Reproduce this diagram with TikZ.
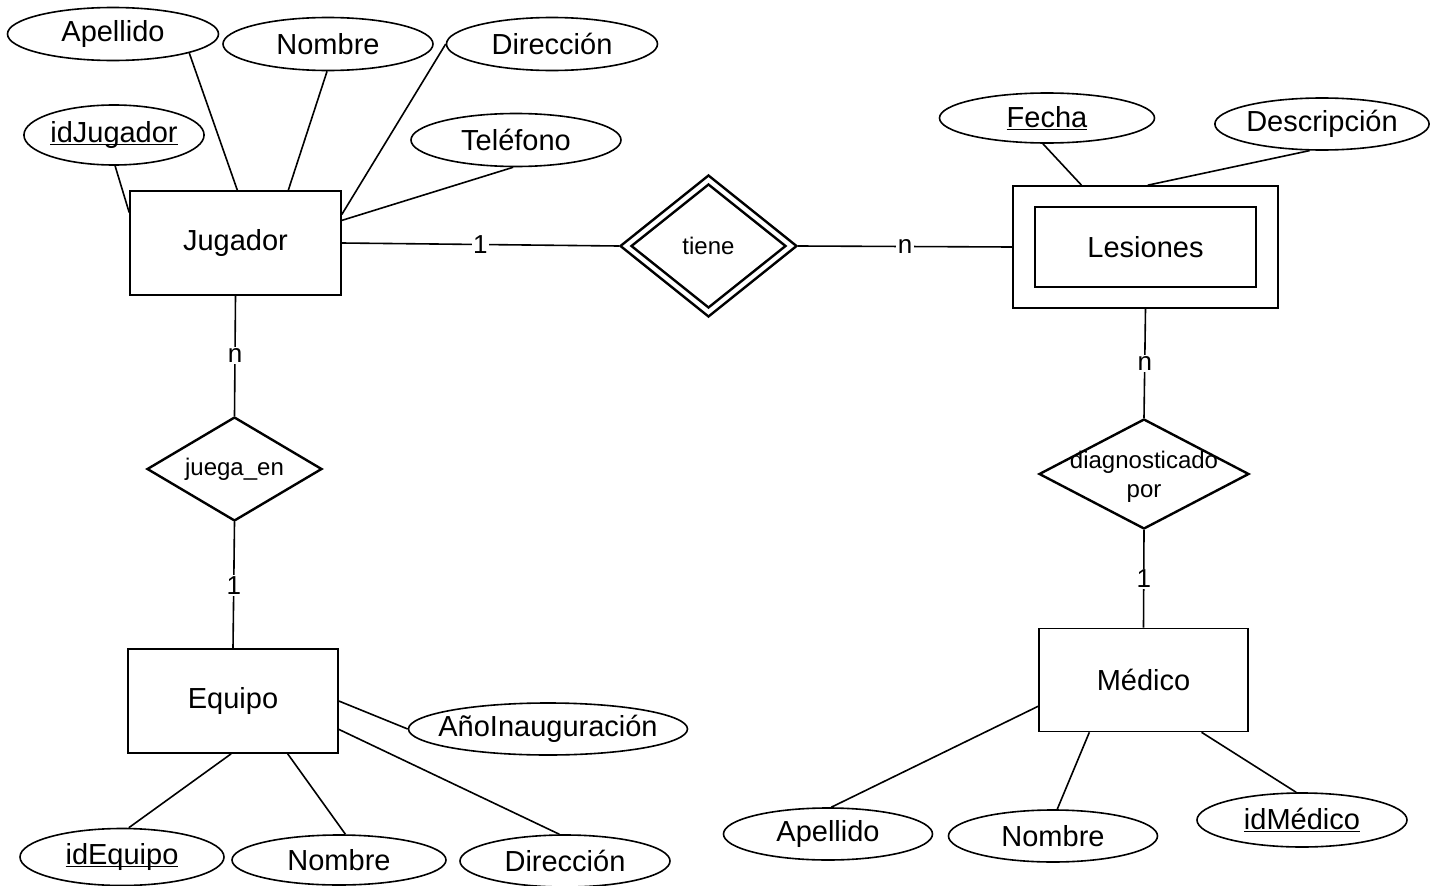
\documentclass[tikz,border=0pt]{standalone}
\usepackage{fontspec}
\setmainfont{Liberation Sans}
\usetikzlibrary{shapes.geometric}
\newcommand{\pkey}[1]{\underline{\smash{#1}}\vphantom{#1}}

\begin{document}
\begin{tikzpicture}[x=1pt,y=-1pt,line width=1.6pt,
		entity/.style={rectangle,draw,inner sep=0pt,font=\fontsize{29}{31}\selectfont},
		attr/.style={ellipse,draw,inner sep=0pt,minimum width=210,minimum height=53,font=\fontsize{29}{31}\selectfont},
		rel/.style={diamond,draw,aspect=2,line width=2.4pt,inner sep=0pt,font=\fontsize{24}{29}\selectfont},
		card/.style={fill=white,inner sep=1.5pt,font=\fontsize{26}{28}\selectfont}]
	\useasboundingbox (0,0) rectangle (1436,886);
	% Entities
	\node[entity,minimum width=211,minimum height=104] (jugador) at (235.5,243) {Jugador};
	\node[entity,minimum width=265,minimum height=122] (lesiones) at (1145.5,247) {};
	\node[entity,minimum width=221,minimum height=80] (lesionesin) at (lesiones) {Lesiones};
	\node[entity,minimum width=210,minimum height=104] (equipo) at (233,701) {Equipo};
	\node[entity,minimum width=209,minimum height=103] (medico) at (1143.5,680) {Médico};

	% Relationships
	\node[rel,minimum width=177,minimum height=142] (tiene) at (708.5,246) {};
	\node[rel,minimum width=155,minimum height=124] (tienein) at (tiene) {tiene};
	\node[rel,minimum width=175,minimum height=104] (juega) at (234.5,469) {juega\_en};
	\node[rel,minimum width=210,minimum height=110] (diag) at (1144,474) {};
	\node[font=\fontsize{24}{29}\selectfont,align=center,inner sep=0pt] (diagtxt) at (1144,477) {diagnosticado\\por};

	% Attributes
	\node[attr,minimum width=211] (apellidoJ) at (113,34) {Apellido};
	\node[attr] (nombreJ) at (328,44) {Nombre};
	\node[attr,minimum width=211] (direccionJ) at (552,44) {Dirección};
	\node[attr,minimum width=176,minimum height=60] (idjugador) at (114,135) {\pkey{idJugador}};
	\node[attr] (telefono) at (516,140) {Teléfono};
	\node[attr,minimum width=215,minimum height=50] (fecha) at (1047,118) {\pkey{Fecha}};
	\node[attr,minimum width=213,minimum height=52] (descripcion) at (1322,124) {Descripción};
	\node[attr,minimum width=279,minimum height=52] (anio) at (548,729) {\makebox[0pt]{AñoInauguración}};
	\node[attr,minimum width=204,minimum height=57] (idequipo) at (122,857) {\pkey{idEquipo}};
	\node[attr,minimum width=214,minimum height=50] (nombreE) at (339,860) {Nombre};
	\node[attr,minimum height=52] (direccionE) at (565,861) {Dirección};
	\node[attr,minimum width=209,minimum height=52] (apellidoM) at (828,834) {Apellido};
	\node[attr,minimum width=209,minimum height=52] (nombreM) at (1053,836) {Nombre};
	\node[attr,minimum width=210,minimum height=54] (idmedico) at (1302,820) {\pkey{idMédico}};

	% Edges
	\draw (jugador.east) -- node[card] (c1) {1} (tiene.west);
	\draw (tiene.east) -- node[card] (c2) {n} (lesiones.west);
	\draw (jugador.south) -- node[card] (c3) {n} (juega.north);
	\draw (juega.south) -- node[card] (c4) {1} (equipo.north);
	\draw (lesiones.south) -- node[card] (c5) {n} (diag.north);
	\draw (diag.south) -- node[card] (c6) {1} (medico.north);

	\draw (apellidoJ.-14) -- (jugador.88);
	\draw (nombreJ.-92) -- (jugador.45);
	\draw (direccionJ.west) -- (jugador.15);
	\draw (telefono.-96) -- (jugador.12);
	\draw (idjugador.-88) -- (jugador.164);
	\draw (fecha.-99) -- (lesiones.136);
	\draw (descripcion.-115) -- (lesiones.88);
	\draw (equipo.-92) -- (idequipo.77);
	\draw (equipo.-44) -- (nombreE.76);
	\draw (equipo.-15) -- (direccionE.102);
	\draw (equipo.east) -- (anio.west);
	\draw (medico.194) -- (apellidoM.83);
	\draw (medico.224) -- (nombreM.81);
	\draw (medico.-42) -- (idmedico.102);
\end{tikzpicture}
\end{document}
